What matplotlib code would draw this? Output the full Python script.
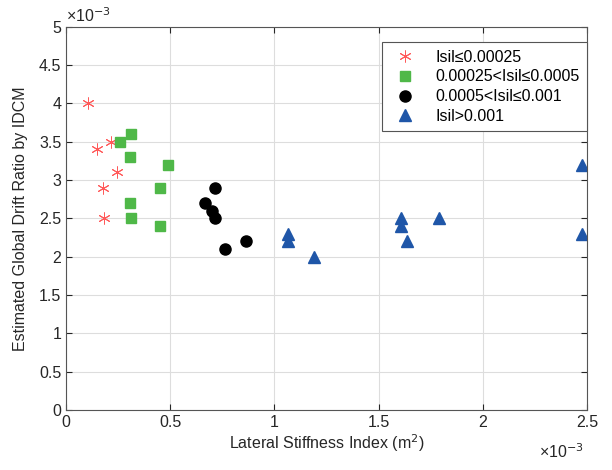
import numpy as np
import matplotlib
matplotlib.use('Agg')
from matplotlib import pyplot as plt
from matplotlib.ticker import FuncFormatter, MultipleLocator

plt.rcParams['font.family'] = ['Liberation Sans', 'DejaVu Sans']

# values in units of 1e-3
g1_x = [0.104, 0.214, 0.147, 0.243, 0.176, 0.181]
g1_y = [4.0, 3.5, 3.4, 3.1, 2.9, 2.5]
g2_x = [0.312, 0.257, 0.307, 0.491, 0.449, 0.307, 0.310, 0.449]
g2_y = [3.6, 3.5, 3.3, 3.19, 2.9, 2.7, 2.5, 2.4]
g3_x = [0.715, 0.665, 0.702, 0.715, 0.865, 0.761]
g3_y = [2.9, 2.7, 2.6, 2.5, 2.2, 2.1]
g4_x = [1.065, 1.065, 1.19, 1.606, 1.606, 1.638, 1.79, 2.478, 2.478]
g4_y = [2.3, 2.2, 2.0, 2.5, 2.4, 2.2, 2.5, 3.2, 2.3]

labels = ['Isil\u22640.00025', '0.00025<Isil\u22640.0005',
          '0.0005<Isil\u22640.001', 'Isil>0.001']

fig = plt.figure(figsize=(6.12, 4.7), dpi=100)
ax = fig.add_axes([0.108, 0.128, 0.851, 0.815])

ax.plot(g1_x, g1_y, color='#ff5a5a', markersize=8.5, markeredgewidth=0.7,
        linestyle='none', label=labels[0], marker=(6, 2, 0))
ax.plot(g2_x, g2_y, 's', color='#4fb848', markersize=7.5, linestyle='none', label=labels[1])
ax.plot(g3_x, g3_y, 'o', color='black', markersize=8, linestyle='none', label=labels[2])
ax.plot(g4_x, g4_y, '^', color='#1f56a8', markersize=9, linestyle='none', label=labels[3])

ax.set_xlim(0, 2.5)
ax.set_ylim(0, 5)
ax.xaxis.set_major_locator(MultipleLocator(0.5))
ax.yaxis.set_major_locator(MultipleLocator(0.5))
fmt = FuncFormatter(lambda v, p: '%g' % v)
ax.xaxis.set_major_formatter(fmt)
ax.yaxis.set_major_formatter(fmt)
ax.grid(True, color='#dddddd', linewidth=0.8)
ax.set_axisbelow(True)
ax.tick_params(direction='in', top=True, right=True, labelsize=11.5,
               colors='#262626', length=4)
for s in ax.spines.values():
    s.set_color('#555555')
    s.set_linewidth(0.8)

ax.set_xlabel('Lateral Stiffness Index (m$^2$)', fontsize=11.5, color='#262626',
              labelpad=2)
ax.set_ylabel('Estimated Global Drift Ratio by IDCM', fontsize=11.5, color='#262626',
              labelpad=8)

ax.text(0.0, 1.005, '\u00d710$^{-3}$', transform=ax.transAxes, fontsize=11.5,
        color='#262626', ha='left', va='bottom')
ax.text(0.995, -0.085, '\u00d710$^{-3}$', transform=ax.transAxes, fontsize=11.5,
        color='#262626', ha='right', va='top')

leg = ax.legend(loc='upper right', bbox_to_anchor=(1.015, 0.98), fontsize=11.5,
                fancybox=False, framealpha=1, edgecolor='#555555',
                handletextpad=0.9, borderpad=0.45, labelspacing=0.3)
leg.get_frame().set_linewidth(0.8)

fig.savefig('out.png', dpi=100)
